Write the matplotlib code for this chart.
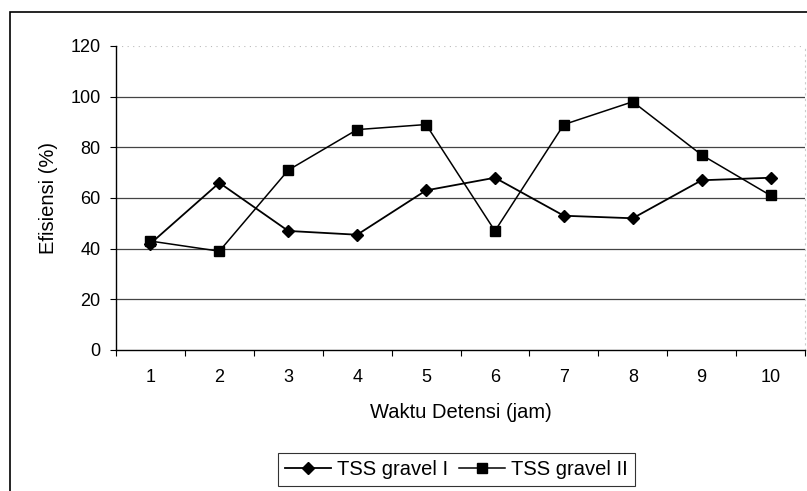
import numpy as np
import matplotlib
matplotlib.use('Agg')
import matplotlib.pyplot as plt
from matplotlib.patches import Rectangle

plt.rcParams['font.family'] = ['Liberation Sans', 'DejaVu Sans']

# data
waktu = ['1', '2', '3', '4', '5', '6', '7', '8', '9', '10']
gravel_1 = [42, 66, 47, 45.5, 63, 68, 53, 52, 67, 68]
gravel_2 = [43, 39, 71, 87, 89, 47, 89, 98, 77, 61]
y_ticks = [0, 20, 40, 60, 80, 100, 120]

fig = plt.figure(figsize=(8.07, 4.91), dpi=100)
ax = fig.add_axes([116/807, 1-350/491, 689/807, 304/491])

x = np.arange(len(waktu))
ax.plot(x, gravel_1, color='black', lw=1.3, marker='D', ms=6, label='TSS gravel I')
ax.plot(x, gravel_2, color='black', lw=1.1, marker='s', ms=7, label='TSS gravel II')

ax.set_xlim(-0.5, len(waktu) - 0.5)
ax.set_ylim(0, 120)
ax.set_yticks(y_ticks)
ax.set_xticks(x)
ax.set_xticklabels(waktu)
ax.set_xticks(np.arange(-0.5, len(waktu)), minor=True)
ax.tick_params(axis='x', which='major', length=0, pad=14, labelsize=13)
ax.tick_params(axis='x', which='minor', length=4, width=0.8, direction='out')
ax.tick_params(axis='y', length=4, width=0.8, pad=7, labelsize=13)

for v in y_ticks[1:-1]:
    ax.axhline(v, color='#444444', lw=0.9, zorder=0)
ax.axhline(120, color='#bbbbbb', lw=0.8, ls=(0, (1, 4)), zorder=0)

ax.spines['left'].set_linewidth(1.0)
ax.spines['bottom'].set_linewidth(1.0)
ax.spines['top'].set_visible(False)
ax.spines['right'].set_color('#cccccc')
ax.spines['right'].set_linestyle((0, (1, 4)))
ax.spines['right'].set_linewidth(0.8)

ax.set_xlabel('Waktu Detensi (jam)', fontsize=14.5, labelpad=12)
ax.set_ylabel('Efisiensi (%)', fontsize=14.5, labelpad=9)

leg = fig.legend(loc='upper left', bbox_to_anchor=(278/807, 1-453/491), ncol=2,
                 fontsize=14.5, frameon=True, fancybox=False, handlelength=2.3,
                 columnspacing=0.5, handletextpad=0.3, borderpad=0.35,
                 borderaxespad=0)
leg.get_frame().set_edgecolor('black')
leg.get_frame().set_linewidth(0.8)

# outer chart border
fig.patches.append(Rectangle((10/807, -0.1), 1.0, 1-12/491+0.1, transform=fig.transFigure,
                             fill=False, edgecolor='black', lw=1.2))

fig.savefig('out.png', dpi=100)
